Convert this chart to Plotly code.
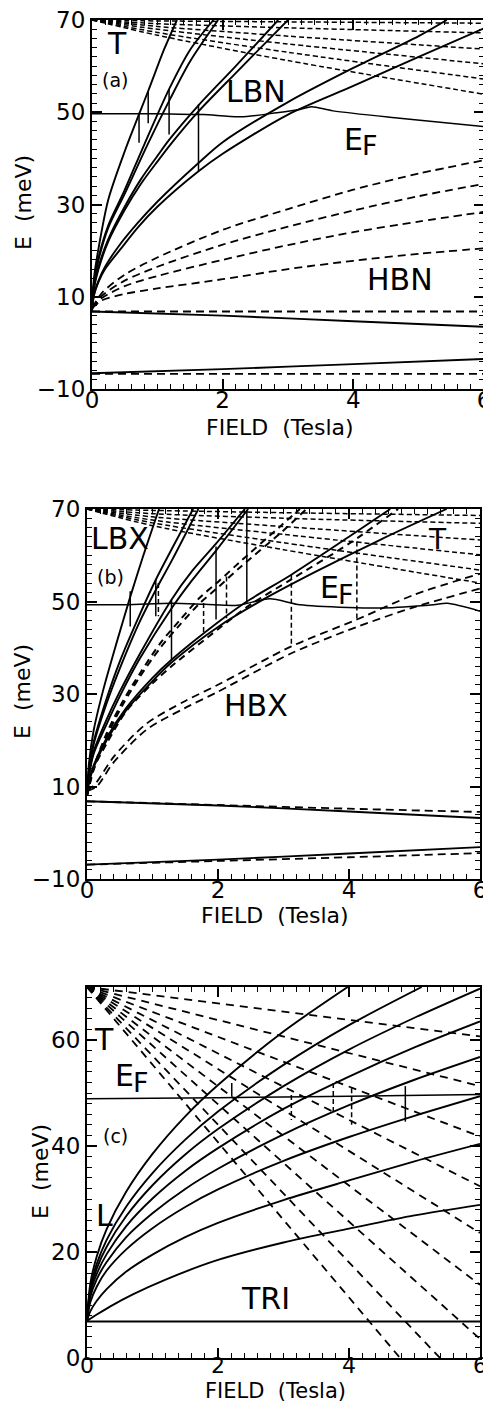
import plotly.graph_objects as go

# ------------------------------------------------------------------ data
# Panel (a): LBN levels (solid), HBN levels (long dash), T levels (short dash)
a_lbn1 = [(0, 7), (0.03, 14), (0.1, 20.5), (0.25, 31.1), (0.5, 41.5), (0.86, 54.6), (1.1, 63.5), (1.30, 70)]
a_lbn2 = [(0, 7), (0.03, 13), (0.1, 18.5), (0.25, 25.5), (0.48, 32.5), (0.8, 43), (1.18, 55), (1.5, 63.5), (1.86, 70)]
a_lbn3 = [(0, 7), (0.03, 12.8), (0.1, 18), (0.25, 25), (0.5, 32.3), (0.85, 43), (1.2, 53), (1.5, 61), (1.93, 70)]
a_lbn4 = [(0, 7), (0.03, 12), (0.1, 16.5), (0.25, 22.5), (0.5, 29.5), (0.75, 35.5), (1.0, 40.5), (1.18, 44), (1.63, 51.5), (2.2, 60), (2.85, 70)]
a_lbn5 = [(0, 7), (0.03, 11.8), (0.1, 16), (0.25, 22), (0.5, 28.8), (0.75, 34.5), (1.0, 39.3), (1.2, 43), (1.63, 50.2), (2.2, 58.5), (3.0, 70)]
a_lbn6 = [(0, 7), (0.03, 10.5), (0.1, 13.5), (0.2, 16.5), (0.4, 20.8), (0.7, 26), (1.0, 30.6), (1.63, 39), (2.0, 43.5), (3.0, 52.2), (4.0, 59.6), (5.0, 66.5), (5.43, 70)]
a_lbn7 = [(0, 7), (0.03, 10.3), (0.1, 13.2), (0.2, 16), (0.43, 20.2), (0.7, 25), (1.0, 29.5), (1.63, 37.2), (2.0, 41), (3.0, 49.5), (4.0, 55.7), (5.0, 62), (6.0, 68.2)]
a_hbn1 = [(0, 7.5), (0.15, 10.8), (0.5, 14.8), (1, 18.5), (2, 24.5), (3, 29), (4, 33.2), (5, 36.7), (6, 39.6)]
a_hbn2 = [(0, 7.5), (0.15, 10.2), (0.5, 13.5), (1, 16.5), (2, 21.3), (3, 25.2), (4, 28.7), (5, 31.8), (6, 34.5)]
a_hbn3 = [(0, 7.5), (0.15, 9.7), (0.5, 12.3), (1, 14.5), (2, 18), (3, 21.2), (4, 24), (5, 26.3), (6, 28.4)]
a_hbn4 = [(0, 7.5), (0.15, 9.2), (0.5, 10.6), (1, 11.8), (2, 13.8), (3, 16), (4, 17.8), (5, 19.3), (6, 20.5)]
a_t = [
    [(0, 70), (1, 69.8), (3, 69.6), (6, 69.3)],
    [(0, 70), (1, 69.2), (3, 68.3), (6, 67.2)],
    [(0, 70), (1, 68.6), (3, 66.5), (6, 63.7)],
    [(0, 70), (1, 68.0), (3, 64.8), (6, 60.5)],
    [(0, 70), (1, 67.3), (3, 63.0), (6, 57.2)],
    [(0, 70), (1, 66.7), (3, 61.2), (6, 53.9)],
]
a_low_solid = [[(0, 6.8), (2, 5.9), (4, 4.7), (6, 3.5)], [(0, -6.6), (2, -5.7), (4, -4.6), (6, -3.5)]]
a_low_dash = [[(0, 6.8), (6, 6.8)], [(0, -6.7), (6, -6.7)]]
a_ef = [(0, 49.7), (0.7, 49.7), (1.2, 49.6), (1.7, 49.5), (2.27, 49.0), (2.83, 49.9), (3.18, 50.6), (3.36, 51.2), (3.69, 50.3), (4.71, 48.7), (6.0, 46.9)]
a_jumps = [(0.72, 49.9, 43.4), (0.86, 54.6, 47.6), (1.18, 55.0, 45.2), (1.63, 51.7, 37.2)]

# Panel (b): LBX levels (solid), HBX levels (long dash), T levels (short dash)
b_lbx = [
    [(0, 8), (0.03, 15), (0.1, 22), (0.25, 31), (0.45, 41), (0.66, 51), (0.85, 59.5), (1.1, 70)],
    [(0, 8), (0.03, 13.5), (0.1, 19.5), (0.3, 29), (0.5, 37), (0.8, 47), (1.05, 54.7), (1.3, 61.5), (1.62, 70)],
    [(0, 8), (0.03, 13.2), (0.1, 19), (0.3, 28), (0.5, 35.5), (0.8, 45.5), (1.05, 52.5), (1.3, 59), (1.70, 70)],
    [(0, 8), (0.03, 12.5), (0.1, 17.5), (0.3, 24.5), (0.5, 30.5), (0.8, 38.5), (1.29, 50.4), (1.6, 56.5), (1.97, 62.5), (2.41, 70)],
    [(0, 8), (0.03, 12.2), (0.1, 17), (0.3, 23.5), (0.5, 29.5), (0.8, 37.5), (1.29, 48.5), (1.6, 54.5), (1.97, 61.0), (2.46, 70)],
    [(0, 8), (0.03, 11), (0.1, 14.5), (0.3, 20.5), (0.6, 27), (1.0, 33.5), (1.29, 37.4), (2.0, 45.5), (2.44, 50), (3.12, 55.8), (4.0, 64), (4.63, 70)],
    [(0, 8), (0.03, 10.8), (0.1, 14), (0.3, 20), (0.6, 26.5), (1.0, 32.8), (1.29, 36.8), (2.0, 44.5), (2.7, 50.5), (3.5, 56.5), (4.5, 63.5), (5.49, 70)],
]
b_pair_dash = [
    [(0, 8), (0.1, 14), (0.3, 21.5), (0.55, 28.5), (0.81, 34.5), (1.12, 41), (1.42, 46), (1.72, 50.8), (2.02, 54.5), (2.33, 58.5), (2.97, 66.5), (3.25, 70)],
    [(0, 8), (0.1, 13.5), (0.3, 20.8), (0.55, 27.8), (0.81, 33.8), (1.12, 40), (1.42, 45), (1.72, 49.6), (2.02, 53.3), (2.33, 57.3), (2.97, 65), (3.35, 70)],
    [(0, 8), (0.1, 13.8), (0.3, 19.3), (0.6, 26.3), (1.0, 32.3), (1.29, 36.0), (2.0, 44.0), (2.44, 48.8), (3.12, 54.8), (4.0, 62.5), (4.75, 70)],
]
b_hbx = [
    [(0, 9), (0.15, 11), (0.4, 16.3), (0.9, 23.5), (1.5, 28.5), (2, 32), (3.12, 40.3), (4.12, 46.1), (5, 51.5), (6, 56)],
    [(0, 9), (0.15, 10), (0.4, 15.1), (0.91, 22.3), (1.5, 27), (2, 30.5), (3.12, 38.8), (4.12, 44.5), (5, 48.8), (6, 52.8)],
]
b_t = [
    [(0, 70), (1, 69.7), (3, 69.2), (6, 68.6)],
    [(0, 70), (1, 69.0), (3, 68.0), (6, 66.9)],
    [(0, 70), (1, 68.3), (3, 66.2), (6, 63.3)],
    [(0, 70), (1, 67.6), (3, 64.5), (6, 60.1)],
    [(0, 70), (1, 67.0), (3, 62.7), (6, 56.8)],
    [(0, 70), (1, 66.4), (3, 61.2), (6, 54.0)],
]
b_low_solid = [[(0, 6.8), (2, 5.9), (4, 4.6), (6, 3.2)], [(0, -6.9), (2, -5.8), (4, -4.5), (6, -3.1)]]
b_low_dash = [[(0, 6.8), (2, 6.0), (4, 5.2), (6, 4.5)], [(0, -6.9), (2, -6.1), (4, -5.3), (6, -4.4)]]
b_ef = [(0, 49.3), (0.6, 49.3), (1.3, 49.6), (1.8, 49.4), (2.3, 49.2), (2.79, 50.6), (3.25, 49.3), (4.0, 48.7), (4.52, 48.6), (5.29, 49.3), (5.5, 49.6), (6.0, 47.9)]
b_jumps_solid = [(0.66, 52.2, 44.6), (1.05, 54.7, 46.8), (1.29, 50.4, 37.4), (1.97, 61.9, 46.1), (2.44, 69.5, 49.7)]
b_jumps_dash = [(1.09, 54.0, 46.8), (1.78, 49.7, 43.2), (2.13, 55.4, 46.4), (3.12, 55.8, 40.3), (4.12, 63.0, 46.1)]

# Panel (c): L levels (solid), T levels (dash), TRI level, Fermi level
c_l = [
    [(0, 7), (0.05, 14.0), (0.15, 19.2), (0.3, 24.3), (0.6, 31.4), (1.0, 38.5), (1.5, 45.6), (2.0, 51.5), (3.0, 61.6), (3.98, 70)],
    [(0, 7), (0.05, 13.2), (0.15, 17.8), (0.3, 22.3), (0.6, 28.6), (1.0, 34.9), (1.5, 41.2), (2.0, 46.5), (3.0, 55.3), (4.0, 62.8), (5.11, 70)],
    [(0, 7), (0.05, 12.7), (0.15, 16.9), (0.3, 21.0), (0.6, 26.8), (1.0, 32.6), (1.5, 38.4), (2.0, 43.2), (3.0, 51.3), (4.0, 58.2), (5.0, 64.2), (6.0, 69.7)],
    [(0, 7), (0.05, 12.2), (0.15, 15.9), (0.3, 19.6), (0.6, 24.9), (1.0, 30.1), (1.5, 35.3), (2.0, 39.6), (3.0, 47.0), (4.0, 53.1), (5.0, 58.6), (6.0, 63.5)],
    [(0, 7), (0.05, 11.5), (0.15, 14.9), (0.3, 18.1), (0.6, 22.8), (1.0, 27.3), (1.5, 31.9), (2.0, 35.7), (3.0, 42.2), (4.0, 47.7), (5.0, 52.5), (6.0, 56.8)],
    [(0, 7), (0.05, 10.5), (0.15, 13.5), (0.3, 16.5), (0.6, 20.5), (1.0, 24.5), (1.5, 28.5), (2.0, 31.8), (3.0, 37.2), (4.0, 41.7), (5.0, 45.7), (6.0, 49.4)],
    [(0, 7), (0.05, 8.8), (0.15, 10.8), (0.3, 13.0), (0.6, 16.3), (1.0, 19.5), (1.5, 22.8), (2.0, 25.5), (3.0, 29.8), (4.0, 33.5), (5.0, 37.1), (6.0, 40.4)],
    [(0, 7), (0.15, 8.2), (0.35, 9.7), (0.7, 12.0), (1.2, 14.8), (2.0, 18.5), (3.0, 21.8), (4.0, 24.4), (5.0, 26.9), (6.0, 28.9)],
]
c_t_end_b = [6, 6, 6, 6, 6, 6, 6, 5.39, 4.78]
c_t_end_e = [60.7, 51.3, 41.8, 32.4, 23.6, 13.8, 3.6, 0, 0]
c_tri = [(0, 6.9), (6, 6.9)]
c_ef = [(0, 48.9), (2, 49.1), (4, 49.4), (6, 49.7)]
c_jumps_solid = [(2.21, 51.9, 49.3), (4.86, 51.3, 44.6)]
c_jumps_dash = [(3.12, 49.6, 44.9), (3.76, 51.9, 45.9), (4.04, 50.9, 44.0)]

# ------------------------------------------------------------------ figure
# The page body has an 8px margin, so the figure is laid out 8px smaller and
# every reference pixel position is shifted by OFF.
OFF = 8
W, H = 491 - OFF, 1403 - OFF
FONT = "DejaVu Sans"
fig = go.Figure()

SOLID = dict(color="black", width=1.9)
LONG = dict(color="black", width=1.8, dash="8px,5px")
SHORT = dict(color="black", width=1.5, dash="5px,3px")


def add_curve(pts, ax, line, smooth=True):
    xs = [p[0] for p in pts]
    ys = [p[1] for p in pts]
    ln = dict(line)
    if smooth and len(pts) > 2:
        ln["shape"] = "spline"
        ln["smoothing"] = 0.8
    fig.add_trace(go.Scatter(x=xs, y=ys, mode="lines", line=ln, xaxis="x" + ax, yaxis="y" + ax,
                             showlegend=False, hoverinfo="skip"))


def add_jumps(jumps, ax, line):
    xs, ys = [], []
    for b, e1, e2 in jumps:
        xs += [b, b, None]
        ys += [e1, e2, None]
    fig.add_trace(go.Scatter(x=xs, y=ys, mode="lines", line=line, xaxis="x" + ax, yaxis="y" + ax,
                             showlegend=False, hoverinfo="skip"))


# panel a -> axis suffix ''
for c in [a_lbn1, a_lbn2, a_lbn3, a_lbn4, a_lbn5, a_lbn6, a_lbn7]:
    add_curve(c, "", SOLID)
for c in [a_hbn1, a_hbn2, a_hbn3, a_hbn4]:
    add_curve(c, "", LONG)
for c in a_t:
    add_curve(c, "", SHORT)
for c in a_low_solid:
    add_curve(c, "", SOLID)
for c in a_low_dash:
    add_curve(c, "", LONG)
add_curve(a_ef, "", dict(color="black", width=1.5))
add_jumps(a_jumps, "", dict(color="black", width=1.5))

# panel b -> '2'
for c in b_lbx:
    add_curve(c, "2", SOLID)
for c in b_pair_dash:
    add_curve(c, "2", dict(color="black", width=2.0, dash="7px,5px"))
for c in b_hbx:
    add_curve(c, "2", LONG)
for c in b_t:
    add_curve(c, "2", SHORT)
for c in b_low_solid:
    add_curve(c, "2", SOLID)
for c in b_low_dash:
    add_curve(c, "2", LONG)
add_curve(b_ef, "2", dict(color="black", width=1.5))
add_jumps(b_jumps_solid, "2", dict(color="black", width=1.5))
add_jumps(b_jumps_dash, "2", dict(color="black", width=1.5, dash="5px,3px"))

# panel c -> '3'
for c in c_l:
    add_curve(c, "3", SOLID)
for bx, ey in zip(c_t_end_b, c_t_end_e):
    add_curve([(0, 70), (bx, ey)], "3", dict(color="black", width=1.8, dash="8px,6px"), smooth=False)
add_curve(c_tri, "3", SOLID)
add_curve(c_ef, "3", dict(color="black", width=1.5))
add_jumps(c_jumps_solid, "3", dict(color="black", width=1.5))
add_jumps(c_jumps_dash, "3", dict(color="black", width=1.5, dash="5px,3px"))

# ------------------------------------------------------------------ axes


def px_x(p):
    return (p - OFF) / W


def px_y(p):
    return 1 - (p - OFF) / H


tickfont = dict(family=FONT, size=23, color="black")


def xax(dom, anchor, standoff=-11, size=23):
    return dict(domain=dom, anchor=anchor, range=[0, 6], tick0=0, dtick=2, showline=True, linecolor="black",
                linewidth=2, mirror="ticks", ticks="inside", ticklen=10, tickwidth=1.5, tickcolor="black",
                minor=dict(dtick=0.2, ticks="inside", ticklen=5, tickwidth=1.2, tickcolor="black", showgrid=False),
                showgrid=False, zeroline=False, tickfont=dict(family=FONT, size=size, color="black"),
                fixedrange=True, automargin=False, ticklabelstandoff=standoff, ticklabeloverflow="allow")


def yax(dom, anchor, rng, t0):
    return dict(domain=dom, anchor=anchor, range=rng, tick0=t0, dtick=20, showline=True, linecolor="black",
                linewidth=2, mirror="ticks", ticks="inside", ticklen=10, tickwidth=1.5, tickcolor="black",
                minor=dict(dtick=2, tick0=0, ticks="inside", ticklen=5, tickwidth=1.2, tickcolor="black", showgrid=False),
                showgrid=False, zeroline=False, tickfont=tickfont, fixedrange=True, automargin=False,
                ticklabeloverflow="allow")


xa = [px_x(92), px_x(484)]
xb = [px_x(87), px_x(480)]
ya = [px_y(389), px_y(20)]
yb = [px_y(879), px_y(509)]
yc = [px_y(1358), px_y(987)]

ann = []


def label(text, x, y, size, angle=0):
    ann.append(dict(text=text, x=px_x(x), y=px_y(y), xref="paper", yref="paper", showarrow=False,
                    font=dict(family=FONT, size=size, color="black"), textangle=angle,
                    xanchor="center", yanchor="middle"))


# axis titles
label("E  (meV)", 24, 203, 22, -90)
label("FIELD  (Tesla)", 280, 427, 22)
label("E  (meV)", 23, 692, 22, -90)
label("FIELD  (Tesla)", 275, 916, 22)
label("E  (meV)", 40, 1172, 22, -90)
label("FIELD  (Tesla)", 275, 1391, 21)

# panel labels
label("T", 117, 43, 30)
label("(a)", 115, 80, 19)
label("LBN", 256, 91, 30)
label("E", 353, 139, 30)
label("F", 370, 146, 27)
label("HBN", 400, 279, 30)

label("LBX", 120, 538, 30)
label("(b)", 110, 577, 19)
label("E", 329, 587, 30)
label("F", 346, 594, 27)
label("HBX", 256, 705, 30)
label("T", 437, 539, 28)

label("T", 104, 1039, 30)
label("E", 124, 1075, 30)
label("F", 141, 1082, 27)
label("(c)", 115, 1136, 19)
label("L", 104, 1215, 30)
label("TRI", 265, 1298, 30)

fig.update_layout(
    width=W, height=H, margin=dict(l=0, r=0, t=0, b=0, autoexpand=False),
    paper_bgcolor="white", plot_bgcolor="white", showlegend=False,
    xaxis=xax(xa, "y"), yaxis=yax(ya, "x", [-10, 70], -10),
    xaxis2=xax(xb, "y2"), yaxis2=yax(yb, "x2", [-10, 70], -10),
    xaxis3=xax(xb, "y3", standoff=-13, size=22), yaxis3=yax(yc, "x3", [0, 70], 0),
    annotations=ann,
)
fig.write_html("out.html")
